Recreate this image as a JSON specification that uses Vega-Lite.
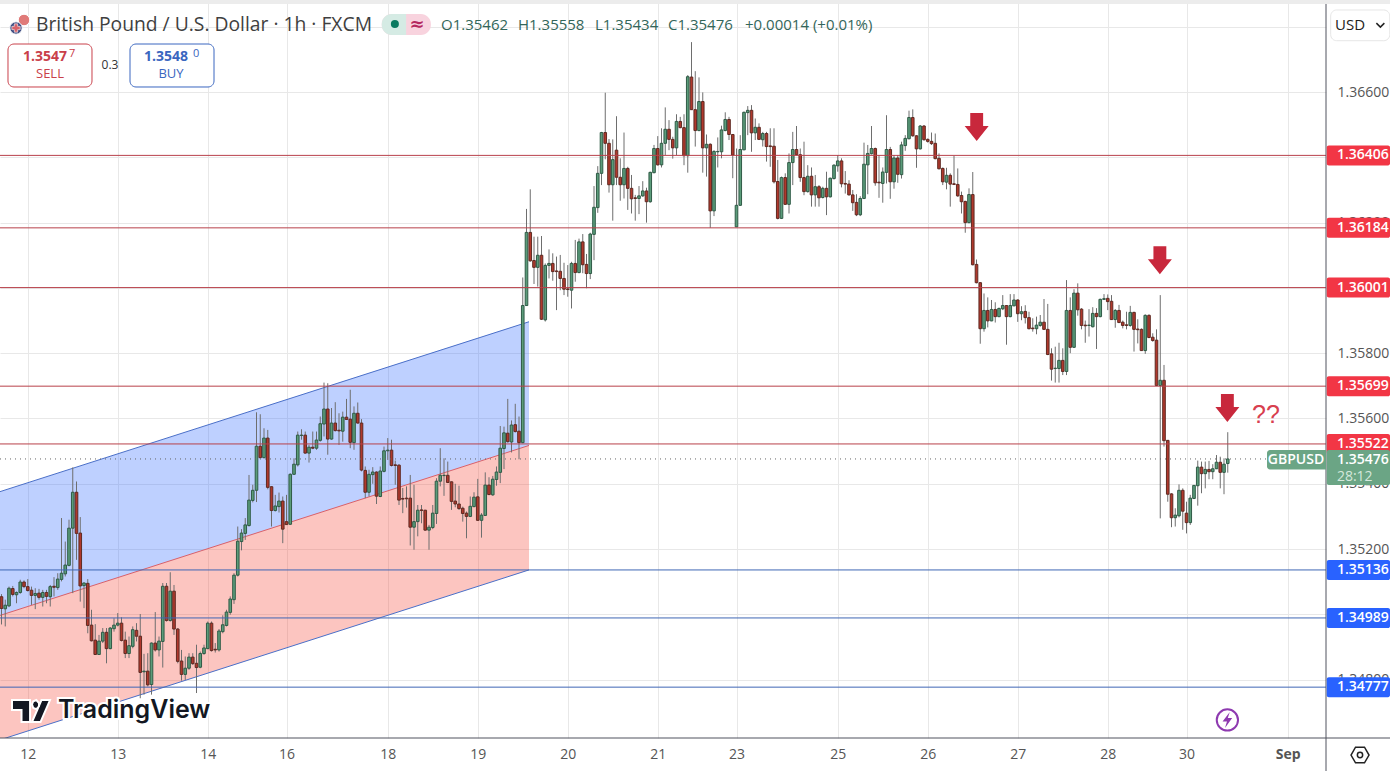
{"$schema":"https://vega.github.io/schema/vega-lite/v6.json","width":1326,"height":738,"autosize":"none","padding":{"left":0,"top":0,"right":64,"bottom":33},"background":"#ffffff","config":{"view":{"stroke":null},"font":"Open Sans","text":{"baseline":"middle"}},
"datasets":{"candles":[
{"i":0,"o":1.35054,"h":1.35062,"l":1.34969,"c":1.35018},{"i":1,"o":1.35017,"h":1.35045,"l":1.34963,"c":1.35028},{"i":2,"o":1.35026,"h":1.35085,"l":1.35022,"c":1.3508},{"i":3,"o":1.35079,"h":1.35087,"l":1.35055,"c":1.35061},{"i":4,"o":1.3506,"h":1.3507,"l":1.35034,"c":1.35067},{"i":5,"o":1.35067,"h":1.35106,"l":1.35063,"c":1.35099},{"i":6,"o":1.35099,"h":1.35104,"l":1.3508,"c":1.35085},{"i":7,"o":1.35085,"h":1.35108,"l":1.3507,"c":1.35073},{"i":8,"o":1.35074,"h":1.35085,"l":1.35029,"c":1.35058},{"i":9,"o":1.35058,"h":1.3508,"l":1.35016,"c":1.35064},
{"i":10,"o":1.35065,"h":1.35078,"l":1.35045,"c":1.35052},{"i":11,"o":1.35052,"h":1.35075,"l":1.35024,"c":1.35067},{"i":12,"o":1.35067,"h":1.35075,"l":1.35034,"c":1.35055},{"i":13,"o":1.35054,"h":1.3509,"l":1.35024,"c":1.35085},{"i":14,"o":1.35086,"h":1.35114,"l":1.35055,"c":1.35083},{"i":15,"o":1.35082,"h":1.35126,"l":1.35075,"c":1.35108},{"i":16,"o":1.35107,"h":1.35295,"l":1.35101,"c":1.35126},{"i":17,"o":1.35124,"h":1.35223,"l":1.35116,"c":1.35151},{"i":18,"o":1.3515,"h":1.3529,"l":1.35147,"c":1.35264},{"i":19,"o":1.35264,"h":1.3545,"l":1.35065,"c":1.35374},
{"i":20,"o":1.35374,"h":1.35407,"l":1.35167,"c":1.35248},{"i":21,"o":1.35249,"h":1.35298,"l":1.35039,"c":1.35087},{"i":22,"o":1.35088,"h":1.35098,"l":1.35019,"c":1.35096},{"i":23,"o":1.35095,"h":1.35108,"l":1.34942,"c":1.34966},{"i":24,"o":1.34967,"h":1.35014,"l":1.34917,"c":1.34919},{"i":25,"o":1.34921,"h":1.3497,"l":1.34876,"c":1.34877},{"i":26,"o":1.34877,"h":1.34937,"l":1.34876,"c":1.34918},{"i":27,"o":1.34918,"h":1.34958,"l":1.34912,"c":1.34945},{"i":28,"o":1.34945,"h":1.34958,"l":1.3485,"c":1.34895},{"i":29,"o":1.34895,"h":1.34961,"l":1.34893,"c":1.34958},
{"i":30,"o":1.34956,"h":1.34988,"l":1.34947,"c":1.34967},{"i":31,"o":1.34967,"h":1.35004,"l":1.34963,"c":1.34973},{"i":32,"o":1.34973,"h":1.34991,"l":1.34917,"c":1.3492},{"i":33,"o":1.34921,"h":1.34947,"l":1.34866,"c":1.3488},{"i":34,"o":1.3488,"h":1.34932,"l":1.34866,"c":1.34904},{"i":35,"o":1.34902,"h":1.34963,"l":1.34896,"c":1.34953},{"i":36,"o":1.34951,"h":1.34973,"l":1.34917,"c":1.34933},{"i":37,"o":1.34933,"h":1.35001,"l":1.34743,"c":1.34822},{"i":38,"o":1.34824,"h":1.34879,"l":1.34754,"c":1.34826},{"i":39,"o":1.34826,"h":1.34881,"l":1.34779,"c":1.34784},
{"i":40,"o":1.34785,"h":1.34914,"l":1.34754,"c":1.34912},{"i":41,"o":1.34912,"h":1.35007,"l":1.34886,"c":1.34891},{"i":42,"o":1.34891,"h":1.34932,"l":1.34871,"c":1.34918},{"i":43,"o":1.34917,"h":1.35096,"l":1.34837,"c":1.35086},{"i":44,"o":1.35086,"h":1.35096,"l":1.34978,"c":1.34981},{"i":45,"o":1.34981,"h":1.35129,"l":1.34978,"c":1.35071},{"i":46,"o":1.35071,"h":1.3509,"l":1.34937,"c":1.34955},{"i":47,"o":1.34955,"h":1.34958,"l":1.3485,"c":1.34856},{"i":48,"o":1.34857,"h":1.34891,"l":1.34797,"c":1.34816},{"i":49,"o":1.34816,"h":1.34871,"l":1.34799,"c":1.34835},
{"i":50,"o":1.34835,"h":1.34881,"l":1.3483,"c":1.34869},{"i":51,"o":1.34869,"h":1.34881,"l":1.34845,"c":1.34849},{"i":52,"o":1.3485,"h":1.34907,"l":1.34759,"c":1.34837},{"i":53,"o":1.34838,"h":1.34886,"l":1.34835,"c":1.3488},{"i":54,"o":1.3488,"h":1.34907,"l":1.34876,"c":1.34897},{"i":55,"o":1.34895,"h":1.34978,"l":1.34893,"c":1.34973},{"i":56,"o":1.34973,"h":1.34978,"l":1.34886,"c":1.34889},{"i":57,"o":1.34893,"h":1.34912,"l":1.34883,"c":1.34891},{"i":58,"o":1.34891,"h":1.34955,"l":1.34886,"c":1.34949},{"i":59,"o":1.34947,"h":1.34997,"l":1.34942,"c":1.34968},
{"i":60,"o":1.34966,"h":1.35014,"l":1.34963,"c":1.35007},{"i":61,"o":1.35006,"h":1.35055,"l":1.34999,"c":1.35047},{"i":62,"o":1.35045,"h":1.35126,"l":1.35032,"c":1.3512},{"i":63,"o":1.3512,"h":1.35269,"l":1.35116,"c":1.35224},{"i":64,"o":1.35223,"h":1.35261,"l":1.35196,"c":1.35249},{"i":65,"o":1.35248,"h":1.35295,"l":1.35228,"c":1.35274},{"i":66,"o":1.35272,"h":1.35427,"l":1.35269,"c":1.3535},{"i":67,"o":1.35349,"h":1.35397,"l":1.35343,"c":1.3538},{"i":68,"o":1.3538,"h":1.35619,"l":1.35344,"c":1.35515},{"i":69,"o":1.35515,"h":1.35613,"l":1.35478,"c":1.3548},
{"i":70,"o":1.3548,"h":1.3557,"l":1.35478,"c":1.3554},{"i":71,"o":1.3554,"h":1.35565,"l":1.35383,"c":1.35389},{"i":72,"o":1.35391,"h":1.35392,"l":1.35269,"c":1.35318},{"i":73,"o":1.35318,"h":1.35366,"l":1.35315,"c":1.35332},{"i":74,"o":1.3533,"h":1.35373,"l":1.35312,"c":1.35347},{"i":75,"o":1.35347,"h":1.35361,"l":1.35218,"c":1.35261},{"i":76,"o":1.35284,"h":1.35366,"l":1.35274,"c":1.35275},{"i":77,"o":1.35276,"h":1.35432,"l":1.35274,"c":1.35429},{"i":78,"o":1.35429,"h":1.35478,"l":1.35427,"c":1.3546},{"i":79,"o":1.35458,"h":1.3556,"l":1.35453,"c":1.35549},
{"i":80,"o":1.35548,"h":1.35567,"l":1.35535,"c":1.35549},{"i":81,"o":1.35549,"h":1.3556,"l":1.35492,"c":1.35494},{"i":82,"o":1.35494,"h":1.35519,"l":1.35465,"c":1.35512},{"i":83,"o":1.35512,"h":1.3556,"l":1.35506,"c":1.35509},{"i":84,"o":1.35509,"h":1.3556,"l":1.35504,"c":1.35534},{"i":85,"o":1.35533,"h":1.35606,"l":1.35529,"c":1.35584},{"i":86,"o":1.35583,"h":1.3571,"l":1.35545,"c":1.35629},{"i":87,"o":1.35629,"h":1.35708,"l":1.35489,"c":1.35537},{"i":88,"o":1.35537,"h":1.35632,"l":1.35535,"c":1.35586},{"i":89,"o":1.35586,"h":1.3565,"l":1.3556,"c":1.35563},
{"i":90,"o":1.35564,"h":1.35616,"l":1.35519,"c":1.35562},{"i":91,"o":1.35561,"h":1.35621,"l":1.35529,"c":1.35604},{"i":92,"o":1.35604,"h":1.3566,"l":1.35596,"c":1.35597},{"i":93,"o":1.35598,"h":1.35688,"l":1.35509,"c":1.35527},{"i":94,"o":1.35526,"h":1.35637,"l":1.35504,"c":1.35616},{"i":95,"o":1.35616,"h":1.35649,"l":1.35584,"c":1.35586},{"i":96,"o":1.35586,"h":1.35598,"l":1.35438,"c":1.35442},{"i":97,"o":1.35441,"h":1.35453,"l":1.35356,"c":1.35374},{"i":98,"o":1.35374,"h":1.35443,"l":1.35361,"c":1.35429},{"i":99,"o":1.35428,"h":1.35451,"l":1.354,"c":1.35436},
{"i":100,"o":1.35436,"h":1.35438,"l":1.35338,"c":1.35362},{"i":101,"o":1.35361,"h":1.35453,"l":1.35359,"c":1.35439},{"i":102,"o":1.35438,"h":1.35514,"l":1.35435,"c":1.35501},{"i":103,"o":1.35501,"h":1.3554,"l":1.35473,"c":1.35503},{"i":104,"o":1.35503,"h":1.35535,"l":1.35453,"c":1.35456},{"i":105,"o":1.35458,"h":1.35471,"l":1.35397,"c":1.35456},{"i":106,"o":1.35457,"h":1.3546,"l":1.35335,"c":1.3535},{"i":107,"o":1.35355,"h":1.35387,"l":1.3531,"c":1.35353},{"i":108,"o":1.35356,"h":1.35392,"l":1.35327,"c":1.35354},{"i":109,"o":1.35356,"h":1.35427,"l":1.35211,"c":1.35267},
{"i":110,"o":1.35267,"h":1.35397,"l":1.35198,"c":1.35284},{"i":111,"o":1.35284,"h":1.35335,"l":1.35239,"c":1.35319},{"i":112,"o":1.3532,"h":1.35335,"l":1.35279,"c":1.35318},{"i":113,"o":1.35319,"h":1.3532,"l":1.35256,"c":1.35258},{"i":114,"o":1.35258,"h":1.35274,"l":1.35198,"c":1.35267},{"i":115,"o":1.35266,"h":1.35335,"l":1.35261,"c":1.3531},{"i":116,"o":1.35309,"h":1.35417,"l":1.35277,"c":1.35408},{"i":117,"o":1.35408,"h":1.35509,"l":1.35392,"c":1.35426},{"i":118,"o":1.35425,"h":1.35478,"l":1.35363,"c":1.35426},{"i":119,"o":1.35426,"h":1.35468,"l":1.35402,"c":1.35404},
{"i":120,"o":1.35406,"h":1.35407,"l":1.3532,"c":1.35346},{"i":121,"o":1.35347,"h":1.354,"l":1.35328,"c":1.35338},{"i":122,"o":1.35338,"h":1.35394,"l":1.3532,"c":1.35324},{"i":123,"o":1.35325,"h":1.3533,"l":1.35284,"c":1.35309},{"i":124,"o":1.3531,"h":1.35315,"l":1.35233,"c":1.353},{"i":125,"o":1.353,"h":1.35361,"l":1.35298,"c":1.35331},{"i":126,"o":1.3533,"h":1.35374,"l":1.35328,"c":1.35359},{"i":127,"o":1.3536,"h":1.35415,"l":1.35287,"c":1.35288},{"i":128,"o":1.35288,"h":1.3531,"l":1.35235,"c":1.35304},{"i":129,"o":1.35303,"h":1.35435,"l":1.35302,"c":1.35396},
{"i":130,"o":1.35396,"h":1.3542,"l":1.35365,"c":1.35367},{"i":131,"o":1.35366,"h":1.35424,"l":1.35363,"c":1.35414},{"i":132,"o":1.35413,"h":1.35453,"l":1.35394,"c":1.35436},{"i":133,"o":1.35435,"h":1.35577,"l":1.35402,"c":1.35509},{"i":134,"o":1.35508,"h":1.35575,"l":1.35445,"c":1.35556},{"i":135,"o":1.35555,"h":1.3566,"l":1.35526,"c":1.35529},{"i":136,"o":1.35528,"h":1.35594,"l":1.35496,"c":1.3558},{"i":137,"o":1.35581,"h":1.35645,"l":1.35557,"c":1.3556},{"i":138,"o":1.35561,"h":1.35606,"l":1.35475,"c":1.35526},{"i":139,"o":1.35526,"h":1.36032,"l":1.35524,"c":1.35946},
{"i":140,"o":1.35946,"h":1.36242,"l":1.35945,"c":1.3617},{"i":141,"o":1.3617,"h":1.36302,"l":1.3608,"c":1.36083},{"i":142,"o":1.36084,"h":1.36157,"l":1.36012,"c":1.36063},{"i":143,"o":1.36063,"h":1.36157,"l":1.36004,"c":1.361},{"i":144,"o":1.361,"h":1.36159,"l":1.35902,"c":1.35904},{"i":145,"o":1.35902,"h":1.36075,"l":1.35897,"c":1.36069},{"i":146,"o":1.36069,"h":1.36118,"l":1.36029,"c":1.36075},{"i":147,"o":1.36075,"h":1.36106,"l":1.36022,"c":1.3605},{"i":148,"o":1.36052,"h":1.36096,"l":1.35932,"c":1.3605},{"i":149,"o":1.36051,"h":1.36101,"l":1.35993,"c":1.36029},
{"i":150,"o":1.36029,"h":1.36077,"l":1.35978,"c":1.35996},{"i":151,"o":1.35997,"h":1.3607,"l":1.35973,"c":1.35995},{"i":152,"o":1.35993,"h":1.3608,"l":1.35937,"c":1.36075},{"i":153,"o":1.36075,"h":1.36147,"l":1.36019,"c":1.36047},{"i":154,"o":1.36047,"h":1.36151,"l":1.36045,"c":1.36141},{"i":155,"o":1.36141,"h":1.36165,"l":1.36045,"c":1.36071},{"i":156,"o":1.36072,"h":1.36104,"l":1.35999,"c":1.36044},{"i":157,"o":1.36044,"h":1.36169,"l":1.36027,"c":1.36165},{"i":158,"o":1.36164,"h":1.36312,"l":1.36085,"c":1.36247},{"i":159,"o":1.36246,"h":1.36373,"l":1.3623,"c":1.36351},
{"i":160,"o":1.36351,"h":1.36478,"l":1.36315,"c":1.36476},{"i":161,"o":1.36476,"h":1.36598,"l":1.36394,"c":1.36443},{"i":162,"o":1.36443,"h":1.36456,"l":1.36292,"c":1.36316},{"i":163,"o":1.36316,"h":1.36455,"l":1.36206,"c":1.36393},{"i":164,"o":1.36422,"h":1.36526,"l":1.36315,"c":1.36339},{"i":165,"o":1.36339,"h":1.36397,"l":1.36267,"c":1.36316},{"i":166,"o":1.36316,"h":1.36476,"l":1.36274,"c":1.36366},{"i":167,"o":1.36366,"h":1.36371,"l":1.36239,"c":1.36305},{"i":168,"o":1.36305,"h":1.36346,"l":1.36228,"c":1.36273},{"i":169,"o":1.36276,"h":1.36285,"l":1.36206,"c":1.36274},
{"i":170,"o":1.36274,"h":1.36312,"l":1.36226,"c":1.36282},{"i":171,"o":1.36282,"h":1.36327,"l":1.36279,"c":1.36297},{"i":172,"o":1.36297,"h":1.36307,"l":1.362,"c":1.36264},{"i":173,"o":1.36264,"h":1.36356,"l":1.36261,"c":1.36354},{"i":174,"o":1.36353,"h":1.36438,"l":1.36351,"c":1.36427},{"i":175,"o":1.36427,"h":1.36465,"l":1.36375,"c":1.36377},{"i":176,"o":1.36377,"h":1.36489,"l":1.36369,"c":1.36443},{"i":177,"o":1.36443,"h":1.36553,"l":1.36407,"c":1.36486},{"i":178,"o":1.36486,"h":1.36514,"l":1.36422,"c":1.36455},{"i":179,"o":1.36455,"h":1.36463,"l":1.36396,"c":1.36429},
{"i":180,"o":1.36429,"h":1.36532,"l":1.36407,"c":1.3651},{"i":181,"o":1.3651,"h":1.36524,"l":1.36489,"c":1.36491},{"i":182,"o":1.36491,"h":1.36532,"l":1.36376,"c":1.36405},{"i":183,"o":1.36405,"h":1.36652,"l":1.36353,"c":1.36647},{"i":184,"o":1.36646,"h":1.36753,"l":1.36545,"c":1.36546},{"i":185,"o":1.36546,"h":1.36664,"l":1.36433,"c":1.36482},{"i":186,"o":1.36482,"h":1.36645,"l":1.3648,"c":1.36571},{"i":187,"o":1.36571,"h":1.36599,"l":1.36353,"c":1.36429},{"i":188,"o":1.36429,"h":1.3647,"l":1.36341,"c":1.3644},{"i":189,"o":1.3644,"h":1.36443,"l":1.36184,"c":1.36236},
{"i":190,"o":1.36236,"h":1.36422,"l":1.3622,"c":1.36418},{"i":191,"o":1.36417,"h":1.36461,"l":1.36369,"c":1.36418},{"i":192,"o":1.36417,"h":1.36497,"l":1.36397,"c":1.36484},{"i":193,"o":1.36482,"h":1.36538,"l":1.3648,"c":1.36516},{"i":194,"o":1.36516,"h":1.36524,"l":1.36453,"c":1.3647},{"i":195,"o":1.3647,"h":1.36471,"l":1.36336,"c":1.36407},{"i":196,"o":1.36187,"h":1.36427,"l":1.36187,"c":1.36253},{"i":197,"o":1.36253,"h":1.36468,"l":1.36251,"c":1.36424},{"i":198,"o":1.36423,"h":1.3654,"l":1.36422,"c":1.36538},{"i":199,"o":1.36537,"h":1.36557,"l":1.36468,"c":1.36544},
{"i":200,"o":1.36544,"h":1.3656,"l":1.36417,"c":1.36475},{"i":201,"o":1.36475,"h":1.36519,"l":1.36453,"c":1.36492},{"i":202,"o":1.36492,"h":1.36504,"l":1.36453,"c":1.36455},{"i":203,"o":1.36454,"h":1.36478,"l":1.36433,"c":1.36473},{"i":204,"o":1.36473,"h":1.36478,"l":1.36387,"c":1.36433},{"i":205,"o":1.36435,"h":1.36489,"l":1.36371,"c":1.36433},{"i":206,"o":1.36434,"h":1.36489,"l":1.3632,"c":1.36325},{"i":207,"o":1.36326,"h":1.36392,"l":1.3621,"c":1.36213},{"i":208,"o":1.36213,"h":1.36341,"l":1.36211,"c":1.36338},{"i":209,"o":1.36338,"h":1.36351,"l":1.36254,"c":1.36256},
{"i":210,"o":1.36256,"h":1.36412,"l":1.36228,"c":1.36384},{"i":211,"o":1.36384,"h":1.36478,"l":1.36315,"c":1.36424},{"i":212,"o":1.36424,"h":1.36496,"l":1.36407,"c":1.36408},{"i":213,"o":1.36408,"h":1.36427,"l":1.36325,"c":1.36338},{"i":214,"o":1.36338,"h":1.36448,"l":1.36284,"c":1.36295},{"i":215,"o":1.36295,"h":1.36376,"l":1.36292,"c":1.36342},{"i":216,"o":1.36342,"h":1.36369,"l":1.36249,"c":1.36285},{"i":217,"o":1.36285,"h":1.36346,"l":1.36249,"c":1.3631},{"i":218,"o":1.3631,"h":1.36315,"l":1.36249,"c":1.36276},{"i":219,"o":1.36277,"h":1.3631,"l":1.36274,"c":1.36305},
{"i":220,"o":1.36305,"h":1.36356,"l":1.36223,"c":1.36279},{"i":221,"o":1.36279,"h":1.36338,"l":1.36277,"c":1.36336},{"i":222,"o":1.36335,"h":1.36379,"l":1.36332,"c":1.36376},{"i":223,"o":1.36374,"h":1.36407,"l":1.36356,"c":1.36389},{"i":224,"o":1.36389,"h":1.36397,"l":1.36308,"c":1.36319},{"i":225,"o":1.3632,"h":1.36358,"l":1.36289,"c":1.36318},{"i":226,"o":1.36318,"h":1.3633,"l":1.36283,"c":1.36285},{"i":227,"o":1.36285,"h":1.363,"l":1.36236,"c":1.36261},{"i":228,"o":1.36262,"h":1.36287,"l":1.3622,"c":1.36224},{"i":229,"o":1.36224,"h":1.36281,"l":1.3622,"c":1.36274},
{"i":230,"o":1.36274,"h":1.36445,"l":1.36272,"c":1.36379},{"i":231,"o":1.36377,"h":1.36438,"l":1.36287,"c":1.36412},{"i":232,"o":1.36411,"h":1.36496,"l":1.36409,"c":1.36427},{"i":233,"o":1.36427,"h":1.3643,"l":1.36313,"c":1.36322},{"i":234,"o":1.36324,"h":1.36407,"l":1.36276,"c":1.36322},{"i":235,"o":1.3632,"h":1.36369,"l":1.36261,"c":1.36355},{"i":236,"o":1.36354,"h":1.36529,"l":1.3632,"c":1.36424},{"i":237,"o":1.36424,"h":1.36432,"l":1.36273,"c":1.36325},{"i":238,"o":1.36325,"h":1.36407,"l":1.36304,"c":1.36398},{"i":239,"o":1.36398,"h":1.36407,"l":1.36322,"c":1.36348},
{"i":240,"o":1.36347,"h":1.36448,"l":1.36335,"c":1.36438},{"i":241,"o":1.36436,"h":1.36468,"l":1.3642,"c":1.36458},{"i":242,"o":1.36457,"h":1.36543,"l":1.36455,"c":1.36522},{"i":243,"o":1.36522,"h":1.36547,"l":1.36463,"c":1.36466},{"i":244,"o":1.36466,"h":1.36468,"l":1.36368,"c":1.36426},{"i":245,"o":1.36426,"h":1.36499,"l":1.36424,"c":1.36496},{"i":246,"o":1.36496,"h":1.36499,"l":1.36451,"c":1.36454},{"i":247,"o":1.36455,"h":1.36458,"l":1.36445,"c":1.36449},{"i":248,"o":1.36449,"h":1.36476,"l":1.36438,"c":1.36442},{"i":249,"o":1.36443,"h":1.36473,"l":1.36394,"c":1.36396},
{"i":250,"o":1.36397,"h":1.36412,"l":1.36363,"c":1.36365},{"i":251,"o":1.36366,"h":1.36369,"l":1.36315,"c":1.36325},{"i":252,"o":1.36324,"h":1.36368,"l":1.36302,"c":1.36345},{"i":253,"o":1.36345,"h":1.36351,"l":1.36249,"c":1.36318},{"i":254,"o":1.36319,"h":1.36405,"l":1.36315,"c":1.36317},{"i":255,"o":1.36317,"h":1.36366,"l":1.36279,"c":1.36282},{"i":256,"o":1.36283,"h":1.36295,"l":1.36228,"c":1.36264},{"i":257,"o":1.36265,"h":1.36267,"l":1.36169,"c":1.362},{"i":258,"o":1.362,"h":1.36305,"l":1.36198,"c":1.36286},{"i":259,"o":1.36286,"h":1.36355,"l":1.36069,"c":1.36071},
{"i":260,"o":1.36072,"h":1.36087,"l":1.36014,"c":1.36016},{"i":261,"o":1.36016,"h":1.36018,"l":1.35829,"c":1.35875},{"i":262,"o":1.35875,"h":1.35983,"l":1.35866,"c":1.35931},{"i":263,"o":1.35931,"h":1.35971,"l":1.35879,"c":1.35899},{"i":264,"o":1.35899,"h":1.35963,"l":1.35898,"c":1.35934},{"i":265,"o":1.35934,"h":1.35956,"l":1.35894,"c":1.35912},{"i":266,"o":1.35912,"h":1.3594,"l":1.3591,"c":1.35937},{"i":267,"o":1.35936,"h":1.35978,"l":1.35932,"c":1.35946},{"i":268,"o":1.35946,"h":1.35947,"l":1.35826,"c":1.35912},{"i":269,"o":1.35912,"h":1.35981,"l":1.3591,"c":1.35946},
{"i":270,"o":1.35945,"h":1.35981,"l":1.35944,"c":1.35963},{"i":271,"o":1.35963,"h":1.35965,"l":1.35896,"c":1.35921},{"i":272,"o":1.35921,"h":1.35944,"l":1.35901,"c":1.35927},{"i":273,"o":1.35928,"h":1.35947,"l":1.35891,"c":1.35909},{"i":274,"o":1.35909,"h":1.35927,"l":1.35873,"c":1.35875},{"i":275,"o":1.35877,"h":1.35907,"l":1.35866,"c":1.35875},{"i":276,"o":1.35875,"h":1.35912,"l":1.35858,"c":1.35886},{"i":277,"o":1.35885,"h":1.35917,"l":1.35881,"c":1.35895},{"i":278,"o":1.35895,"h":1.35966,"l":1.35871,"c":1.35873},{"i":279,"o":1.35873,"h":1.35951,"l":1.35794,"c":1.35796},
{"i":280,"o":1.35798,"h":1.35815,"l":1.35716,"c":1.35751},{"i":281,"o":1.35753,"h":1.3582,"l":1.3571,"c":1.35754},{"i":282,"o":1.35753,"h":1.35832,"l":1.3571,"c":1.35778},{"i":283,"o":1.35778,"h":1.35815,"l":1.35733,"c":1.35744},{"i":284,"o":1.35744,"h":1.36024,"l":1.35733,"c":1.35931},{"i":285,"o":1.35931,"h":1.35971,"l":1.358,"c":1.35818},{"i":286,"o":1.35818,"h":1.35996,"l":1.35816,"c":1.35984},{"i":287,"o":1.35984,"h":1.36014,"l":1.35915,"c":1.35933},{"i":288,"o":1.35935,"h":1.35938,"l":1.35873,"c":1.35885},{"i":289,"o":1.35886,"h":1.359,"l":1.35832,"c":1.35884},
{"i":290,"o":1.35885,"h":1.35935,"l":1.35851,"c":1.35886},{"i":291,"o":1.35881,"h":1.35941,"l":1.35879,"c":1.35922},{"i":292,"o":1.35922,"h":1.35938,"l":1.35813,"c":1.35912},{"i":293,"o":1.35912,"h":1.35967,"l":1.3591,"c":1.35965},{"i":294,"o":1.35965,"h":1.35981,"l":1.35963,"c":1.35967},{"i":295,"o":1.35968,"h":1.3598,"l":1.35932,"c":1.35958},{"i":296,"o":1.35959,"h":1.35978,"l":1.35902,"c":1.35903},{"i":297,"o":1.35903,"h":1.35935,"l":1.35878,"c":1.35931},{"i":298,"o":1.35931,"h":1.35948,"l":1.35892,"c":1.35894},{"i":299,"o":1.35895,"h":1.359,"l":1.35876,"c":1.35885},
{"i":300,"o":1.35887,"h":1.35927,"l":1.35873,"c":1.35885},{"i":301,"o":1.35885,"h":1.35945,"l":1.35881,"c":1.35925},{"i":302,"o":1.35925,"h":1.35927,"l":1.35805,"c":1.35873},{"i":303,"o":1.35874,"h":1.35904,"l":1.3583,"c":1.35872},{"i":304,"o":1.35873,"h":1.35876,"l":1.35807,"c":1.35808},{"i":305,"o":1.35808,"h":1.35919,"l":1.35798,"c":1.35916},{"i":306,"o":1.35916,"h":1.35919,"l":1.35846,"c":1.35848},{"i":307,"o":1.35849,"h":1.35861,"l":1.35835,"c":1.35839},{"i":308,"o":1.3584,"h":1.35873,"l":1.357,"c":1.35701},{"i":309,"o":1.35701,"h":1.35978,"l":1.35294,"c":1.35717},
{"i":310,"o":1.35717,"h":1.35764,"l":1.35514,"c":1.35532},{"i":311,"o":1.35533,"h":1.35534,"l":1.35345,"c":1.35368},{"i":312,"o":1.35369,"h":1.35371,"l":1.35267,"c":1.35296},{"i":313,"o":1.35296,"h":1.35325,"l":1.35269,"c":1.35304},{"i":314,"o":1.35302,"h":1.35398,"l":1.35297,"c":1.3538},{"i":315,"o":1.3538,"h":1.35386,"l":1.35259,"c":1.35316},{"i":316,"o":1.3531,"h":1.35345,"l":1.35248,"c":1.35281},{"i":317,"o":1.35281,"h":1.35366,"l":1.35274,"c":1.35356},{"i":318,"o":1.35355,"h":1.35396,"l":1.35353,"c":1.35395},{"i":319,"o":1.35394,"h":1.35471,"l":1.35333,"c":1.35451},
{"i":320,"o":1.35451,"h":1.35468,"l":1.35371,"c":1.35431},{"i":321,"o":1.35431,"h":1.35468,"l":1.35386,"c":1.35444},{"i":322,"o":1.35444,"h":1.3547,"l":1.35414,"c":1.35437},{"i":323,"o":1.35437,"h":1.3546,"l":1.35414,"c":1.35446},{"i":324,"o":1.35446,"h":1.35488,"l":1.35445,"c":1.35466},{"i":325,"o":1.35466,"h":1.35483,"l":1.35386,"c":1.35435},{"i":326,"o":1.35435,"h":1.35478,"l":1.35368,"c":1.3546},{"i":327,"o":1.35462,"h":1.35558,"l":1.35434,"c":1.35476}
],
"channel":[{"x":-0.4,"top":1.353759,"mid":1.349967,"bot":1.346154},{"x":140.67,"top":1.358963,"mid":1.355174,"bot":1.351361}],
"redLevels":[{"p":1.36406,"t":"1.36406"},{"p":1.36184,"t":"1.36184"},{"p":1.36001,"t":"1.36001"},{"p":1.35699,"t":"1.35699"},{"p":1.35522,"t":"1.35522"}],
"blueLevels":[{"p":1.35136,"t":"1.35136"},{"p":1.34989,"t":"1.34989"},{"p":1.34777,"t":"1.34777"}]},
"layer":[
{"data":{"name":"channel"},"mark":{"type":"area","color":"#2962ff","opacity":0.3,"clip":true},"encoding":{"x":{"field":"x","type":"quantitative","scale":{"domain":[-0.4,353.2],"nice":false,"zero":false,"padding":0},"axis":{"title":null,"values":[7,31,55,76,103,127,151,175,196,223,247,271,295,316,343],"labelExpr":"({'7':'12','31':'13','55':'14','76':'16','103':'18','127':'19','151':'20','175':'21','196':'23','223':'25','247':'26','271':'27','295':'28','316':'30','343':'Sep'})[datum.value]","labelFontWeight":{"condition":{"test":"datum.value==343","value":"bold"},"value":"normal"},"grid":true,"gridColor":"#e8e8e8","gridWidth":1,"ticks":false,"domain":false,"labelColor":"#555555","labelFontSize":14,"labelPadding":9,"labelFont":"Open Sans","labelFlush":false}},"y":{"field":"top","type":"quantitative","scale":{"domain":[1.346212,1.36882],"nice":false,"zero":false,"padding":0},"axis":{"title":null,"orient":"right","values":[1.348,1.35,1.352,1.354,1.356,1.358,1.36,1.362,1.364,1.366,1.368],"format":".5f","grid":true,"gridColor":"#e8e8e8","gridWidth":1,"ticks":false,"domain":false,"labelColor":"#555555","labelFontSize":14,"labelPadding":11,"labelFont":"Open Sans"}},"y2":{"field":"mid"}}},
{"data":{"name":"channel"},"mark":{"type":"area","color":"#f4402f","opacity":0.3,"clip":true},"encoding":{"x":{"field":"x","type":"quantitative"},"y":{"field":"mid","type":"quantitative"},"y2":{"field":"bot"}}},
{"data":{"name":"channel"},"mark":{"type":"line","color":"#4a6fc8","strokeWidth":1,"clip":true},"encoding":{"x":{"field":"x","type":"quantitative"},"y":{"field":"top","type":"quantitative"}}},
{"data":{"name":"channel"},"mark":{"type":"line","color":"#d8606a","strokeWidth":1,"clip":true},"encoding":{"x":{"field":"x","type":"quantitative"},"y":{"field":"mid","type":"quantitative"}}},
{"data":{"name":"channel"},"mark":{"type":"line","color":"#4a6fc8","strokeWidth":1,"clip":true},"encoding":{"x":{"field":"x","type":"quantitative"},"y":{"field":"bot","type":"quantitative"}}},
{"data":{"name":"candles"},"mark":{"type":"rule","color":"#6e6e6e","strokeWidth":1},"encoding":{"x":{"field":"i","type":"quantitative"},"y":{"field":"l","type":"quantitative"},"y2":{"field":"h"}}},
{"data":{"name":"candles"},"mark":{"type":"bar","width":2.6,"strokeWidth":1},"encoding":{"x":{"field":"i","type":"quantitative"},"y":{"field":"o","type":"quantitative"},"y2":{"field":"c"},"fill":{"condition":{"test":"datum.c>=datum.o","value":"#5b9c7a"},"value":"#b0382c"},"stroke":{"condition":{"test":"datum.c>=datum.o","value":"#2f5a46"},"value":"#5e2a22"}}},
{"data":{"values":[{"p":1.35476}]},"mark":{"type":"rule","color":"#666666","strokeWidth":1,"strokeDash":[1,4]},"encoding":{"y":{"field":"p","type":"quantitative"}}},
{"data":{"name":"redLevels"},"mark":{"type":"rule","color":"#b8404a","strokeWidth":1},"encoding":{"y":{"field":"p","type":"quantitative"}}},
{"data":{"name":"blueLevels"},"mark":{"type":"rule","color":"#3f66b5","strokeWidth":1},"encoding":{"y":{"field":"p","type":"quantitative"}}},
{"data":{"values":[{"x1":-0.4,"x2":370.27,"y1":1.36882,"y2":1.368697}]},"mark":{"type":"rect","fill":"#ececec"},"encoding":{"x":{"field":"x1","type":"quantitative"},"x2":{"field":"x2"},"y":{"field":"y1","type":"quantitative"},"y2":{"field":"y2"}}},
{"data":{"values":[{"x":353.2,"y1":1.368697,"y2":1.345201}]},"mark":{"type":"rule","color":"#50535e","strokeWidth":1},"encoding":{"x":{"field":"x","type":"quantitative"},"y":{"field":"y1","type":"quantitative"},"y2":{"field":"y2"}}},
{"data":{"values":[{"x1":-0.4,"x2":370.27,"y":1.346212}]},"mark":{"type":"rule","color":"#50535e","strokeWidth":1},"encoding":{"x":{"field":"x1","type":"quantitative"},"x2":{"field":"x2"},"y":{"field":"y","type":"quantitative"}}},
{"data":{"name":"redLevels"},"mark":{"type":"rect","fill":"#f23645","height":20,"cornerRadius":2},"encoding":{"x":{"datum":353.4,"type":"quantitative"},"x2":{"datum":370.27},"y":{"field":"p","type":"quantitative"}}},
{"data":{"name":"blueLevels"},"mark":{"type":"rect","fill":"#2962ff","height":20,"cornerRadius":2},"encoding":{"x":{"datum":353.4,"type":"quantitative"},"x2":{"datum":370.27},"y":{"field":"p","type":"quantitative"}}},
{"data":{"values":[{"x1":337.47,"x2":353.2,"y1":1.355035,"y2":1.354437}]},"mark":{"type":"rect","fill":"#6ba585","cornerRadiusTopLeft":3,"cornerRadiusBottomLeft":3},"encoding":{"x":{"field":"x1","type":"quantitative"},"x2":{"field":"x2"},"y":{"field":"y1","type":"quantitative"},"y2":{"field":"y2"}}},
{"data":{"values":[{"x1":353.4,"x2":370.27,"y1":1.355035,"y2":1.353963}]},"mark":{"type":"rect","fill":"#6ba585","cornerRadius":2},"encoding":{"x":{"field":"x1","type":"quantitative"},"x2":{"field":"x2"},"y":{"field":"y1","type":"quantitative"},"y2":{"field":"y2"}}},
{"data":{"name":"redLevels"},"mark":{"type":"text","align":"left","color":"#ffffff","fontSize":14,"fontWeight":600},"encoding":{"x":{"datum":356.1,"type":"quantitative"},"y":{"field":"p","type":"quantitative"},"text":{"field":"t"}}},
{"data":{"name":"blueLevels"},"mark":{"type":"text","align":"left","color":"#ffffff","fontSize":14,"fontWeight":600},"encoding":{"x":{"datum":356.1,"type":"quantitative"},"y":{"field":"p","type":"quantitative"},"text":{"field":"t"}}},
{"data":{"values":[{"x":345.2,"y":1.354728,"t":"GBPUSD"}]},"mark":{"type":"text","align":"center","color":"#ffffff","fontSize":14,"fontWeight":600},"encoding":{"x":{"field":"x","type":"quantitative"},"y":{"field":"y","type":"quantitative"},"text":{"field":"t"}}},
{"data":{"values":[{"x":356.1,"y":1.354728,"t":"1.35476"}]},"mark":{"type":"text","align":"left","color":"#ffffff","fontSize":14,"fontWeight":600},"encoding":{"x":{"field":"x","type":"quantitative"},"y":{"field":"y","type":"quantitative"},"text":{"field":"t"}}},
{"data":{"values":[{"x":356.1,"y":1.354207,"t":"28:12"}]},"mark":{"type":"text","align":"left","color":"#d5e8dc","fontSize":14},"encoding":{"x":{"field":"x","type":"quantitative"},"y":{"field":"y","type":"quantitative"},"text":{"field":"t"}}},
{"data":{"values":[{"x":260.05,"y":1.36493},{"x":308.9,"y":1.36085},{"x":326.9,"y":1.35632}]},"mark":{"type":"point","filled":true,"opacity":1,"fill":"#c8283c","stroke":null,"size":784,"shape":"M-0.46,-1 L0.46,-1 L0.46,-0.07 L0.857,-0.07 L0,1 L-0.857,-0.07 L-0.46,-0.07 Z"},"encoding":{"x":{"field":"x","type":"quantitative"},"y":{"field":"y","type":"quantitative"}}},
{"data":{"values":[{"x":337.2,"y":1.356107,"t":"??"}]},"mark":{"type":"text","align":"center","color":"#d8404f","fontSize":25,"font":"Liberation Sans"},"encoding":{"x":{"field":"x","type":"quantitative"},"y":{"field":"y","type":"quantitative"},"text":{"field":"t"}}},
{"data":{"values":[{"x":15.07,"y":1.34707,"t":"TradingView"}]},"mark":{"type":"text","align":"left","color":"#ffffff","stroke":"#ffffff","strokeWidth":4,"fontSize":25,"fontWeight":600,"font":"Inter"},"encoding":{"x":{"field":"x","type":"quantitative"},"y":{"field":"y","type":"quantitative"},"text":{"field":"t"}}},
{"data":{"values":[{"x":15.07,"y":1.34707,"t":"TradingView"}]},"mark":{"type":"text","align":"left","color":"#131722","fontSize":25,"fontWeight":600,"font":"Inter"},"encoding":{"x":{"field":"x","type":"quantitative"},"y":{"field":"y","type":"quantitative"},"text":{"field":"t"}}},
{"data":{"values":[{"x":7.87,"y":1.347037}]},"mark":{"type":"point","filled":true,"opacity":1,"fill":"#131722","stroke":"#ffffff","strokeWidth":2,"size":1444,"shape":"M-1,-0.58 H-0.05 V0.58 H-0.5 V-0.05 H-1 Z M0.05,-0.35 L0.12,-0.52 L0.28,-0.58 L0.42,-0.42 L0.42,-0.25 L0.28,-0.1 L0.12,-0.16 Z M0.55,-0.58 H1 L0.5,0.58 H0.05 Z"},"encoding":{"x":{"field":"x","type":"quantitative"},"y":{"field":"y","type":"quantitative"}}},
{"data":{"values":[{"x":326.9,"y":1.346764}]},"mark":{"type":"point","filled":true,"opacity":1,"fill":"#ffffff","stroke":"#8e3ab0","strokeWidth":2,"size":452},"encoding":{"x":{"field":"x","type":"quantitative"},"y":{"field":"y","type":"quantitative"}}},
{"data":{"values":[{"x":326.9,"y":1.346764}]},"mark":{"type":"point","filled":true,"opacity":1,"fill":"#8e3ab0","stroke":null,"size":256,"shape":"M0.3,-1 L-0.6,0.2 H-0.05 L-0.3,1 L0.6,-0.25 H0.05 Z"},"encoding":{"x":{"field":"x","type":"quantitative"},"y":{"field":"y","type":"quantitative"}}},
{"data":{"values":[{"x":362.27,"y":1.345691}]},"mark":{"type":"point","filled":false,"opacity":1,"stroke":"#222222","strokeWidth":1.5,"size":324,"shape":"M-1,0 L-0.5,-0.87 L0.5,-0.87 L1,0 L0.5,0.87 L-0.5,0.87 Z"},"encoding":{"x":{"field":"x","type":"quantitative"},"y":{"field":"y","type":"quantitative"}}},
{"data":{"values":[{"x":362.27,"y":1.345691}]},"mark":{"type":"point","filled":false,"opacity":1,"stroke":"#222222","strokeWidth":1.5,"size":28},"encoding":{"x":{"field":"x","type":"quantitative"},"y":{"field":"y","type":"quantitative"}}},
{"data":{"values":[{"x1":354.45,"x2":370.2,"y1":1.368514,"y2":1.367573}]},"mark":{"type":"rect","fill":"#ffffff","stroke":"#e6e6e6","cornerRadius":6},"encoding":{"x":{"field":"x1","type":"quantitative"},"x2":{"field":"x2"},"y":{"field":"y1","type":"quantitative"},"y2":{"field":"y2"}}},
{"data":{"values":[{"x":355.6,"y":1.36805,"t":"USD"}]},"mark":{"type":"text","align":"left","color":"#222222","fontSize":15},"encoding":{"x":{"field":"x","type":"quantitative"},"y":{"field":"y","type":"quantitative"},"text":{"field":"t"}}},
{"data":{"values":[{"x":367.7,"y":1.36805}]},"mark":{"type":"point","filled":false,"opacity":1,"stroke":"#222222","strokeWidth":1.5,"size":64,"shape":"M-1,-0.5 L0,0.5 L1,-0.5"},"encoding":{"x":{"field":"x","type":"quantitative"},"y":{"field":"y","type":"quantitative"}}},
{"data":{"values":[{"x":6,"y":1.368207}]},"mark":{"type":"point","filled":true,"opacity":1,"fill":"#e07a78","stroke":"#ffffff","strokeWidth":1,"size":133},"encoding":{"x":{"field":"x","type":"quantitative"},"y":{"field":"y","type":"quantitative"}}},
{"data":{"values":[{"x":3.87,"y":1.367962}]},"mark":{"type":"point","filled":true,"opacity":1,"fill":"#3a4a80","stroke":"#ffffff","strokeWidth":1,"size":154},"encoding":{"x":{"field":"x","type":"quantitative"},"y":{"field":"y","type":"quantitative"}}},
{"data":{"values":[{"x":3.87,"y":1.367962}]},"mark":{"type":"point","shape":"cross","filled":true,"opacity":1,"fill":"#d9636a","stroke":"#ffffff","strokeWidth":0.6,"size":70},"encoding":{"x":{"field":"x","type":"quantitative"},"y":{"field":"y","type":"quantitative"}}},
{"data":{"values":[{"x":9.2,"y":1.36805,"t":"British Pound / U.S. Dollar · 1h · FXCM"}]},"mark":{"type":"text","align":"left","color":"#3f3f3f","fontSize":19.3},"encoding":{"x":{"field":"x","type":"quantitative"},"y":{"field":"y","type":"quantitative"},"text":{"field":"t"}}},
{"data":{"values":[{"x1":101.4,"x2":114.5,"y1":1.368391,"y2":1.367748}]},"mark":{"type":"rect","fill":"#f8d3de","cornerRadius":10},"encoding":{"x":{"field":"x1","type":"quantitative"},"x2":{"field":"x2"},"y":{"field":"y1","type":"quantitative"},"y2":{"field":"y2"}}},
{"data":{"values":[{"x1":101.4,"x2":107.9,"y1":1.368391,"y2":1.367748}]},"mark":{"type":"rect","fill":"#d5ebe4","cornerRadiusTopLeft":10,"cornerRadiusBottomLeft":10},"encoding":{"x":{"field":"x1","type":"quantitative"},"x2":{"field":"x2"},"y":{"field":"y1","type":"quantitative"},"y2":{"field":"y2"}}},
{"data":{"values":[{"x":104.9,"y":1.368085}]},"mark":{"type":"point","filled":true,"opacity":1,"fill":"#0a7a60","stroke":null,"size":64},"encoding":{"x":{"field":"x","type":"quantitative"},"y":{"field":"y","type":"quantitative"}}},
{"data":{"values":[{"x":110.8,"y":1.36805,"t":"≈"}]},"mark":{"type":"text","align":"center","color":"#b5285f","fontSize":18,"fontWeight":"bold","font":"DejaVu Sans"},"encoding":{"x":{"field":"x","type":"quantitative"},"y":{"field":"y","type":"quantitative"},"text":{"field":"t"}}},
{"data":{"values":[{"x":117.2,"y":1.36805,"t":"O1.35462"},{"x":137.73,"y":1.36805,"t":"H1.35558"},{"x":158.27,"y":1.36805,"t":"L1.35434"},{"x":177.73,"y":1.36805,"t":"C1.35476"},{"x":198.27,"y":1.36805,"t":"+0.00014 (+0.01%)"}]},"mark":{"type":"text","align":"left","color":"#33665a","fontSize":15},"encoding":{"x":{"field":"x","type":"quantitative"},"y":{"field":"y","type":"quantitative"},"text":{"field":"t"}}},
{"data":{"values":[{"x1":1.73,"x2":24.13,"y1":1.367472,"y2":1.366155}]},"mark":{"type":"rect","fill":"#ffffff","stroke":"#c9404a","cornerRadius":6},"encoding":{"x":{"field":"x1","type":"quantitative"},"x2":{"field":"x2"},"y":{"field":"y1","type":"quantitative"},"y2":{"field":"y2"}}},
{"data":{"values":[{"x1":34.27,"x2":56.67,"y1":1.367472,"y2":1.366155}]},"mark":{"type":"rect","fill":"#ffffff","stroke":"#3a66c0","cornerRadius":6},"encoding":{"x":{"field":"x1","type":"quantitative"},"x2":{"field":"x2"},"y":{"field":"y1","type":"quantitative"},"y2":{"field":"y2"}}},
{"data":{"values":[{"x":5.73,"y":1.367074,"t":"1.3547"}]},"mark":{"type":"text","align":"left","color":"#c9404a","fontSize":14,"fontWeight":"bold"},"encoding":{"x":{"field":"x","type":"quantitative"},"y":{"field":"y","type":"quantitative"},"text":{"field":"t"}}},
{"data":{"values":[{"x":18,"y":1.367166,"t":"7"}]},"mark":{"type":"text","align":"left","color":"#c9404a","fontSize":11},"encoding":{"x":{"field":"x","type":"quantitative"},"y":{"field":"y","type":"quantitative"},"text":{"field":"t"}}},
{"data":{"values":[{"x":12.93,"y":1.366553,"t":"SELL"}]},"mark":{"type":"text","align":"center","color":"#c9404a","fontSize":13},"encoding":{"x":{"field":"x","type":"quantitative"},"y":{"field":"y","type":"quantitative"},"text":{"field":"t"}}},
{"data":{"values":[{"x":28.93,"y":1.366829,"t":"0.3"}]},"mark":{"type":"text","align":"center","color":"#333333","fontSize":12},"encoding":{"x":{"field":"x","type":"quantitative"},"y":{"field":"y","type":"quantitative"},"text":{"field":"t"}}},
{"data":{"values":[{"x":38,"y":1.367074,"t":"1.3548"}]},"mark":{"type":"text","align":"left","color":"#3a66c0","fontSize":14,"fontWeight":"bold"},"encoding":{"x":{"field":"x","type":"quantitative"},"y":{"field":"y","type":"quantitative"},"text":{"field":"t"}}},
{"data":{"values":[{"x":51.07,"y":1.367166,"t":"0"}]},"mark":{"type":"text","align":"left","color":"#3a66c0","fontSize":11},"encoding":{"x":{"field":"x","type":"quantitative"},"y":{"field":"y","type":"quantitative"},"text":{"field":"t"}}},
{"data":{"values":[{"x":45.2,"y":1.366553,"t":"BUY"}]},"mark":{"type":"text","align":"center","color":"#3a66c0","fontSize":13},"encoding":{"x":{"field":"x","type":"quantitative"},"y":{"field":"y","type":"quantitative"},"text":{"field":"t"}}}
]}
